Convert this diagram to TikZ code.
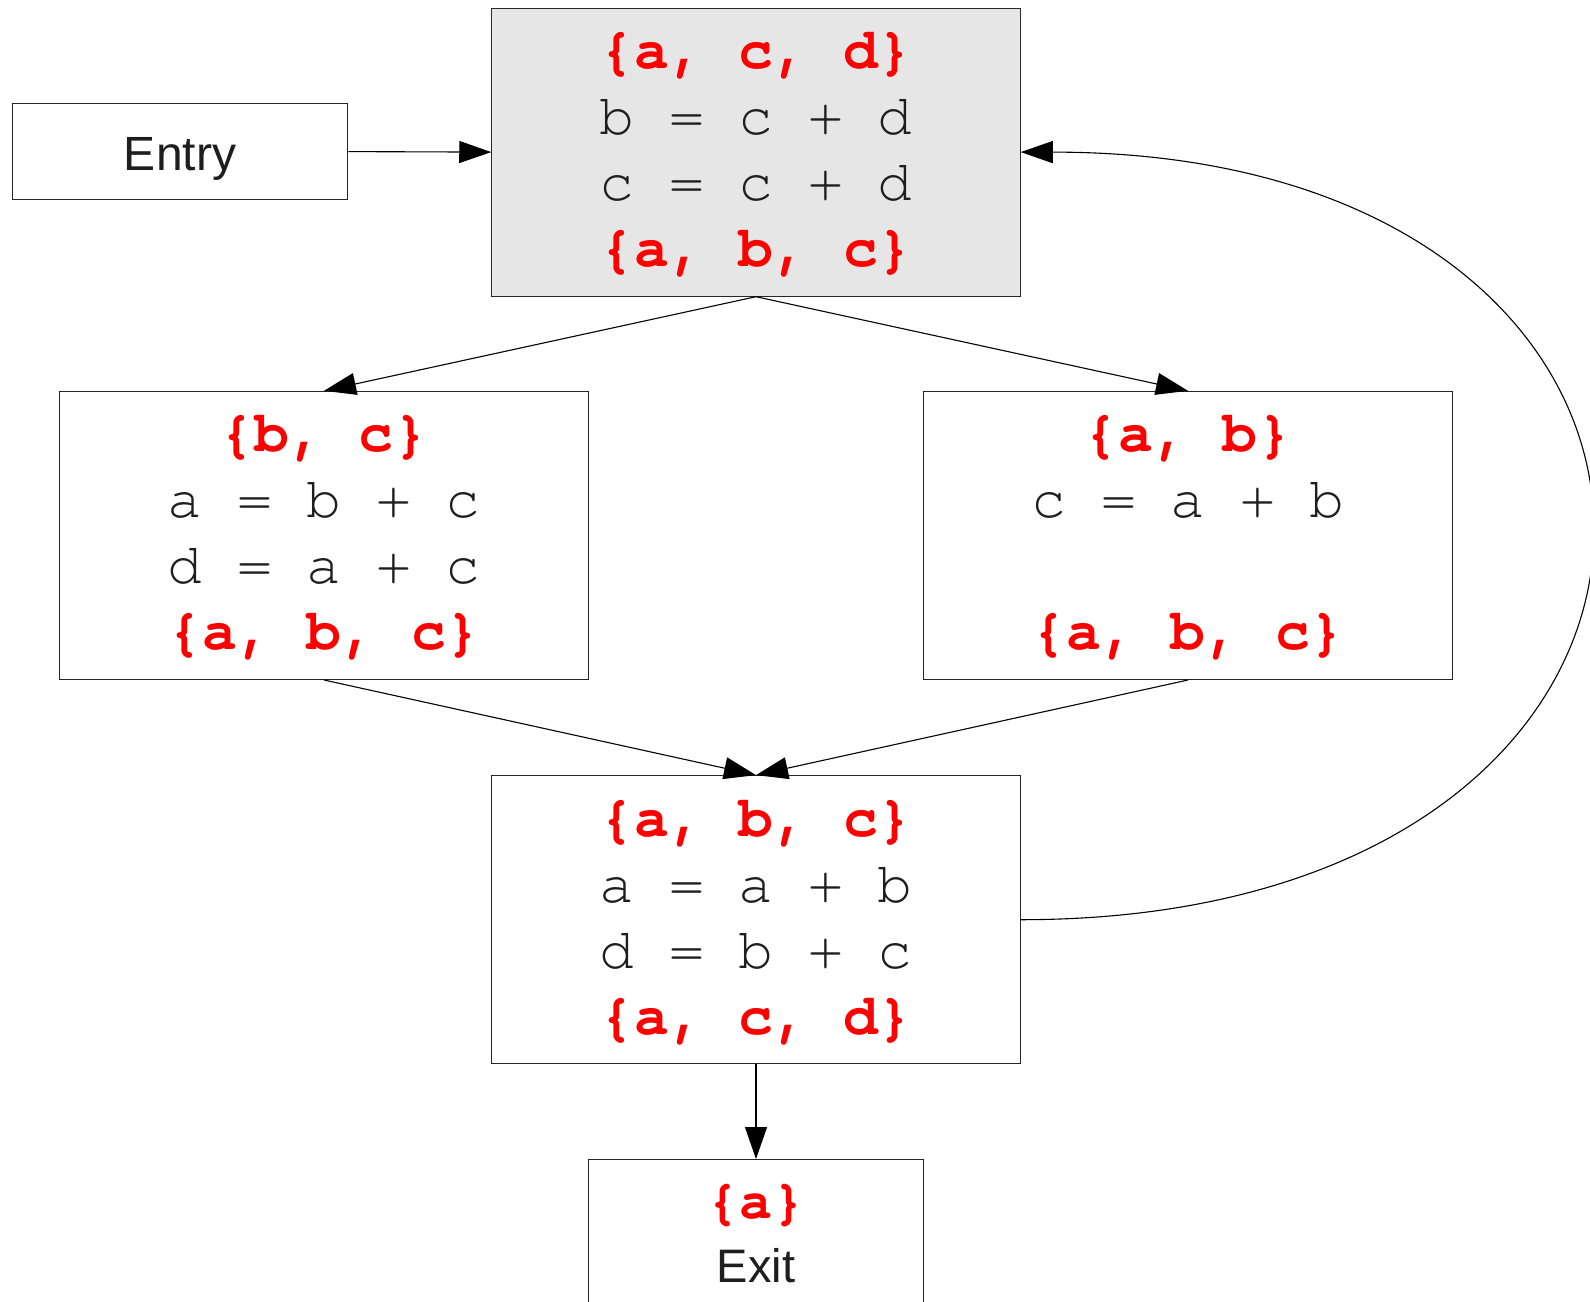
\documentclass[tikz,border=0pt]{standalone}
\usepackage{fontspec}
\usetikzlibrary{arrows.meta}
\newfontfamily\cur{TeX Gyre Cursor}
\newfontfamily\lsans{Liberation Sans}
\definecolor{setred}{RGB}{255,0,0}
\definecolor{boxgray}{RGB}{230,230,230}
\definecolor{ink}{RGB}{30,30,30}
\newcommand\rs[1]{{\color{setred}\bfseries #1}}
\newcommand\topstrut{\rule{0pt}{60.3pt}}
\newcommand\botstrut{\rule[-29.7pt]{0pt}{0pt}}
\frenchspacing
\begin{document}
\begin{tikzpicture}[x=1pt,y=-1pt,
  blk/.style={draw=black!85, line width=1.2pt, minimum width=528.3pt, minimum height=288pt,
    inner sep=0pt, align=center, text=ink, font=\cur\fontsize{58}{66}\selectfont},
  smallbox/.style={draw=black!85, line width=1.2pt, minimum width=335.6pt, inner sep=0pt},
  arr/.style={draw=black, line width=1.1pt, -{Triangle[length=32pt,width=22pt]}}]
\useasboundingbox (0,0) rectangle (1590,1301);
\fill[white] (0,0) rectangle (1590,1301);
\clip (0,0) rectangle (1590,1301);

\node[smallbox, minimum height=96.4pt, text height=37pt, text depth=0pt, text=ink,
  font=\lsans\fontsize{48}{56}\selectfont] (entry) at (180,151.6) {Entry};

\node[blk, fill=boxgray] (top) at (756,152.1)
  {\topstrut\rs{\{a, c, d\}}\\ b = c + d\\ c = c + d\\ \rs{\{a, b, c\}}\botstrut};
\node[blk] (left) at (324,535.4)
  {\topstrut\rs{\{b, c\}}\\ a = b + c\\ d = a + c\\ \rs{\{a, b, c\}}\botstrut};
\node[blk] (right) at (1188,535.4)
  {\topstrut\rs{\{a, b\}}\\ c = a + b\\ \mbox{}\\ \rs{\{a, b, c\}}\botstrut};
\node[blk] (bot) at (756,919.7)
  {\topstrut\rs{\{a, b, c\}}\\ a = a + b\\ d = b + c\\ \rs{\{a, c, d\}}\botstrut};

\node[smallbox, minimum height=260pt, anchor=north] (exit) at (756,1159) {};
\node[anchor=base, inner sep=0pt, text=setred, font=\cur\bfseries\fontsize{55}{60}\selectfont]
  (exitset) at (756,1218) {\{a\}};
\node[anchor=base, inner sep=0pt, text=ink, font=\lsans\fontsize{47}{56}\selectfont]
  (exitlbl) at (756,1282) {Exit};

\draw[arr] (entry.east) -- (top.west);
\draw[arr] (top.south) -- (left.north);
\draw[arr] (top.south) -- (right.north);
\draw[arr] (left.south) -- (bot.north);
\draw[arr] (right.south) -- (bot.north);
\draw[arr] (bot.south) -- (exit.north);
\draw[arr] (bot.east) .. controls +(759,0) and +(759,0) .. (top.east);
\end{tikzpicture}
\end{document}
